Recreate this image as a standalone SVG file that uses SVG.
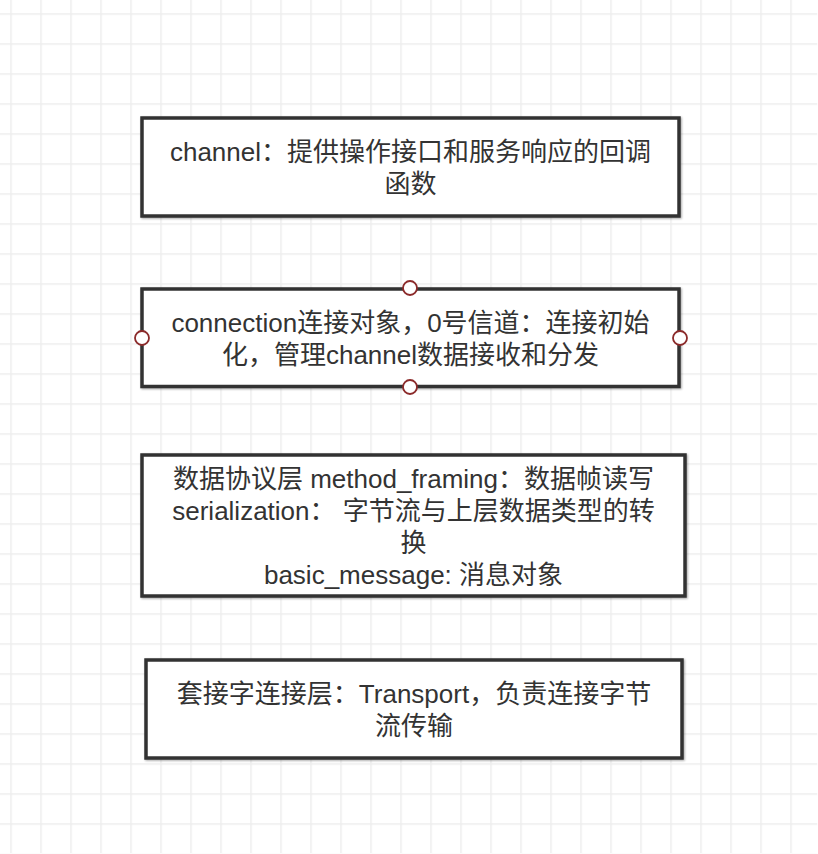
<svg xmlns="http://www.w3.org/2000/svg" width="818" height="854" viewBox="0 0 818 854">
  <defs>
    <pattern id="grid" patternUnits="userSpaceOnUse" x="11" y="14" width="30" height="30">
      <path d="M0.75 0 V30 M0 0.75 H30" fill="none" stroke="#ededed" stroke-width="1.5"/>
    </pattern>
    <filter id="sh" x="-5%" y="-10%" width="110%" height="120%">
      <feGaussianBlur in="SourceAlpha" stdDeviation="1"/>
      <feOffset dx="1" dy="1" result="b"/>
      <feComponentTransfer><feFuncA type="linear" slope="0.35"/></feComponentTransfer>
      <feMerge><feMergeNode/><feMergeNode in="SourceGraphic"/></feMerge>
    </filter>
  </defs>
  <style>
    .box { fill: #ffffff; stroke: #333333; stroke-width: 3.5; filter: url(#sh); }
    .lbl { font-family: "Liberation Sans", "Noto Sans CJK SC", sans-serif; font-size: 26px; fill: #333333; text-anchor: middle; }
    .port { fill: #ffffff; stroke: #8b2a2a; stroke-width: 1.8; }
  </style>
  <rect x="0" y="0" width="818" height="854" fill="#ffffff"/>
  <rect x="0" y="0" width="818" height="854" fill="url(#grid)" transform="translate(-0.75 -0.75)"/>

  <g id="connectors"></g>

  <g id="channel">
    <rect class="box" x="142" y="118" width="537" height="98"/>
    <text class="lbl" x="410.5" y="161">channel：提供操作接口和服务响应的回调</text>
    <text class="lbl" x="410.5" y="193">函数</text>
  </g>

  <g id="connection">
    <rect class="box" x="142" y="289" width="537" height="97.5"/>
    <text class="lbl" x="410.5" y="331.5">connection连接对象，0号信道：连接初始</text>
    <text class="lbl" x="410.5" y="363.5">化，管理channel数据接收和分发</text>
    <circle class="port" cx="410" cy="288" r="7"/>
    <circle class="port" cx="410" cy="387" r="7"/>
    <circle class="port" cx="142" cy="338" r="7"/>
    <circle class="port" cx="680" cy="338" r="7"/>
  </g>

  <g id="protocol">
    <rect class="box" x="142" y="455" width="543" height="141"/>
    <text class="lbl" x="413.5" y="487.5">数据协议层 method_framing：数据帧读写</text>
    <text class="lbl" x="413.5" y="519.5">serialization： 字节流与上层数据类型的转</text>
    <text class="lbl" x="413.5" y="551.5">换</text>
    <text class="lbl" x="413.5" y="583.5">basic_message: 消息对象</text>
  </g>

  <g id="transport">
    <rect class="box" x="146" y="660" width="536" height="98"/>
    <text class="lbl" x="414" y="702.5">套接字连接层：Transport，负责连接字节</text>
    <text class="lbl" x="414" y="734.5">流传输</text>
  </g>
</svg>
